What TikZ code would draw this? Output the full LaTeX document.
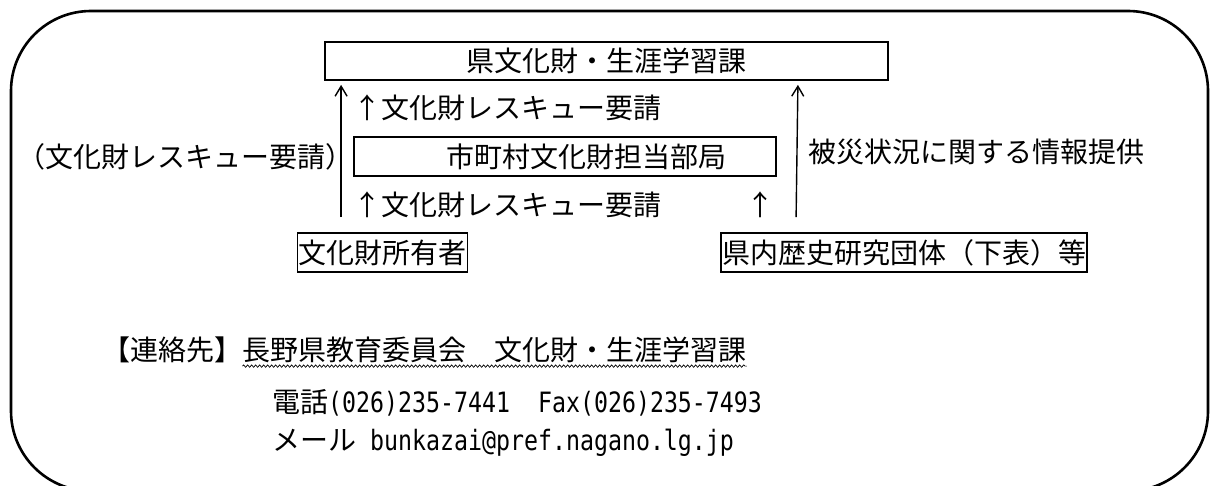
\documentclass[tikz,border=0pt]{standalone}
\usepackage{fontspec}
\setmainfont{Noto Sans CJK JP}
\newfontfamily\monofnt{DejaVu Sans Mono}[FakeStretch=0.83]
\usetikzlibrary{arrows.meta,calc,decorations.pathmorphing}
\newcommand{\ml}[1]{{\monofnt #1}}
\begin{document}
\begin{tikzpicture}[x=1pt,y=-1pt,
  every node/.style={inner sep=0pt, font=\fontsize{28}{34}\selectfont, text height=24.6pt, text depth=3.4pt},
  box/.style={draw, line width=1.8pt},
  arr/.style={-{Straight Barb[length=10pt,width=12pt]}, line width=1.4pt},
  wavy/.style={decorate, decoration={snake, amplitude=1.2pt, segment length=4pt}, line width=0.7pt}]
\useasboundingbox (0,0) rectangle (1210,486);
\draw[line width=2.6pt, rounded corners=80pt] (11,11) rectangle (1208,491);
% boxes
\node[box, minimum width=563pt, minimum height=38pt] (top) at (606.5,61) {県文化財・生涯学習課};
\node[box, minimum width=422pt, minimum height=39pt] (muni) at (565,156.5) {\hspace*{42pt}市町村文化財担当部局};
\node[box, inner xsep=1pt, minimum height=39pt] (owner) at (382.5,252.5) {文化財所有者};
\node[box, inner xsep=1pt, minimum height=39pt] (hist) at (904,252.5) {県内歴史研究団体（下表）等};
% labels
\node[anchor=west] (req1) at (353,108) {↑文化財レスキュー要請};
\node[anchor=west] (req2) at (353,205) {↑文化財レスキュー要請};
\node (req0) at (185,157) {（文化財レスキュー要請）};
\node (info) at (976,152) {被災状況に関する情報提供};
\node (up) at (760,205) {↑};
% arrows
\draw[arr] ($(owner.north west)+(44.5,-15)$) -- ($(top.south west)+(17,4)$);
\draw[arr] ($(hist.north west)+(76,-15)$) -- ($(top.south east)+(-91,4)$);
% contact
\node[anchor=west] (contact) at (102,350) {【連絡先】};
\node[anchor=west] (org) at (contact.east) {長野県教育委員会　文化財・生涯学習課};
\draw[wavy] ($(org.base west)+(0,5.5)$) -- ($(org.base east)+(0,5.5)$);
\node[anchor=west] (tel) at (272,402) {電話\ml{(026)235-7441}　\ml{Fax(026)235-7493}};
\node[anchor=west] (mail) at (272,440) {メール\ml{\ bunkazai@pref.nagano.lg.jp}};
\end{tikzpicture}
\end{document}
